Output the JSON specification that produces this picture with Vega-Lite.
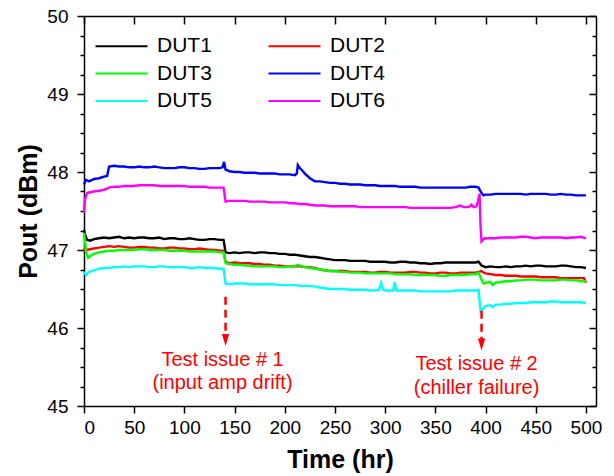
{
"$schema": "https://vega.github.io/schema/vega-lite/v6.json",
"width": 512, "height": 390,
"autosize": {"type": "none"},
"padding": {"left": 84, "top": 16, "right": 18, "bottom": 70},
"config": {"view": {"stroke": null}, "font": "Liberation Sans",
  "axis": {"grid": false, "domainColor": "black", "tickColor": "black", "labelColor": "black", "titleColor": "black", "domainWidth": 1.5, "tickWidth": 1.5, "labelFont": "Liberation Sans", "titleFont": "Liberation Sans"}},
"datasets": {
"lines": [
{"s":"DUT1","t":0,"v":47.26},{"s":"DUT1","t":1,"v":47.2},{"s":"DUT1","t":3,"v":47.13},{"s":"DUT1","t":6,"v":47.12},{"s":"DUT1","t":10,"v":47.14},{"s":"DUT1","t":15,"v":47.15},{"s":"DUT1","t":20,"v":47.16},{"s":"DUT1","t":25,"v":47.15},{"s":"DUT1","t":30,"v":47.16},{"s":"DUT1","t":35,"v":47.17},{"s":"DUT1","t":40,"v":47.15},{"s":"DUT1","t":45,"v":47.16},{"s":"DUT1","t":50,"v":47.15},{"s":"DUT1","t":55,"v":47.16},{"s":"DUT1","t":60,"v":47.16},{"s":"DUT1","t":65,"v":47.15},{"s":"DUT1","t":70,"v":47.15},{"s":"DUT1","t":75,"v":47.16},{"s":"DUT1","t":80,"v":47.14},{"s":"DUT1","t":85,"v":47.15},{"s":"DUT1","t":90,"v":47.15},{"s":"DUT1","t":95,"v":47.14},{"s":"DUT1","t":100,"v":47.14},{"s":"DUT1","t":105,"v":47.15},{"s":"DUT1","t":110,"v":47.14},{"s":"DUT1","t":115,"v":47.13},{"s":"DUT1","t":120,"v":47.13},{"s":"DUT1","t":125,"v":47.14},{"s":"DUT1","t":130,"v":47.14},{"s":"DUT1","t":135,"v":47.13},{"s":"DUT1","t":139,"v":47.13},{"s":"DUT1","t":141,"v":46.97},{"s":"DUT1","t":145,"v":46.96},{"s":"DUT1","t":150,"v":46.97},{"s":"DUT1","t":155,"v":46.96},{"s":"DUT1","t":160,"v":46.97},{"s":"DUT1","t":165,"v":46.97},{"s":"DUT1","t":170,"v":46.96},{"s":"DUT1","t":175,"v":46.97},{"s":"DUT1","t":180,"v":46.97},{"s":"DUT1","t":185,"v":46.96},{"s":"DUT1","t":190,"v":46.96},{"s":"DUT1","t":195,"v":46.95},{"s":"DUT1","t":200,"v":46.95},{"s":"DUT1","t":205,"v":46.94},{"s":"DUT1","t":210,"v":46.94},{"s":"DUT1","t":215,"v":46.93},{"s":"DUT1","t":220,"v":46.92},{"s":"DUT1","t":225,"v":46.91},{"s":"DUT1","t":230,"v":46.91},{"s":"DUT1","t":235,"v":46.9},{"s":"DUT1","t":240,"v":46.89},{"s":"DUT1","t":245,"v":46.88},{"s":"DUT1","t":250,"v":46.87},{"s":"DUT1","t":255,"v":46.87},{"s":"DUT1","t":260,"v":46.87},{"s":"DUT1","t":265,"v":46.86},{"s":"DUT1","t":270,"v":46.86},{"s":"DUT1","t":275,"v":46.86},{"s":"DUT1","t":280,"v":46.86},{"s":"DUT1","t":285,"v":46.85},{"s":"DUT1","t":290,"v":46.85},{"s":"DUT1","t":295,"v":46.85},{"s":"DUT1","t":300,"v":46.85},{"s":"DUT1","t":305,"v":46.84},{"s":"DUT1","t":310,"v":46.84},{"s":"DUT1","t":315,"v":46.85},{"s":"DUT1","t":320,"v":46.85},{"s":"DUT1","t":325,"v":46.84},{"s":"DUT1","t":330,"v":46.84},{"s":"DUT1","t":335,"v":46.83},{"s":"DUT1","t":340,"v":46.83},{"s":"DUT1","t":345,"v":46.82},{"s":"DUT1","t":350,"v":46.83},{"s":"DUT1","t":355,"v":46.83},{"s":"DUT1","t":360,"v":46.84},{"s":"DUT1","t":365,"v":46.84},{"s":"DUT1","t":370,"v":46.84},{"s":"DUT1","t":375,"v":46.84},{"s":"DUT1","t":380,"v":46.84},{"s":"DUT1","t":385,"v":46.84},{"s":"DUT1","t":390,"v":46.84},{"s":"DUT1","t":393,"v":46.85},{"s":"DUT1","t":396,"v":46.8},{"s":"DUT1","t":398,"v":46.79},{"s":"DUT1","t":400,"v":46.78},{"s":"DUT1","t":405,"v":46.79},{"s":"DUT1","t":410,"v":46.78},{"s":"DUT1","t":415,"v":46.78},{"s":"DUT1","t":420,"v":46.79},{"s":"DUT1","t":425,"v":46.78},{"s":"DUT1","t":430,"v":46.79},{"s":"DUT1","t":435,"v":46.79},{"s":"DUT1","t":440,"v":46.8},{"s":"DUT1","t":445,"v":46.79},{"s":"DUT1","t":450,"v":46.8},{"s":"DUT1","t":455,"v":46.8},{"s":"DUT1","t":460,"v":46.79},{"s":"DUT1","t":465,"v":46.79},{"s":"DUT1","t":470,"v":46.79},{"s":"DUT1","t":475,"v":46.8},{"s":"DUT1","t":480,"v":46.8},{"s":"DUT1","t":485,"v":46.79},{"s":"DUT1","t":490,"v":46.78},{"s":"DUT1","t":495,"v":46.78},{"s":"DUT1","t":500,"v":46.77},
{"s":"DUT2","t":0,"v":46.98},{"s":"DUT2","t":1,"v":47.03},{"s":"DUT2","t":3,"v":47.0},{"s":"DUT2","t":6,"v":47.01},{"s":"DUT2","t":10,"v":47.02},{"s":"DUT2","t":15,"v":47.03},{"s":"DUT2","t":20,"v":47.04},{"s":"DUT2","t":25,"v":47.05},{"s":"DUT2","t":30,"v":47.04},{"s":"DUT2","t":35,"v":47.05},{"s":"DUT2","t":40,"v":47.04},{"s":"DUT2","t":45,"v":47.03},{"s":"DUT2","t":50,"v":47.03},{"s":"DUT2","t":55,"v":47.04},{"s":"DUT2","t":60,"v":47.04},{"s":"DUT2","t":65,"v":47.03},{"s":"DUT2","t":70,"v":47.03},{"s":"DUT2","t":75,"v":47.02},{"s":"DUT2","t":80,"v":47.02},{"s":"DUT2","t":85,"v":47.03},{"s":"DUT2","t":90,"v":47.03},{"s":"DUT2","t":95,"v":47.02},{"s":"DUT2","t":100,"v":47.02},{"s":"DUT2","t":105,"v":47.01},{"s":"DUT2","t":110,"v":47.01},{"s":"DUT2","t":115,"v":47.02},{"s":"DUT2","t":120,"v":47.01},{"s":"DUT2","t":125,"v":47.0},{"s":"DUT2","t":130,"v":47.0},{"s":"DUT2","t":135,"v":46.99},{"s":"DUT2","t":139,"v":46.99},{"s":"DUT2","t":141,"v":46.85},{"s":"DUT2","t":145,"v":46.83},{"s":"DUT2","t":150,"v":46.84},{"s":"DUT2","t":155,"v":46.83},{"s":"DUT2","t":160,"v":46.83},{"s":"DUT2","t":165,"v":46.83},{"s":"DUT2","t":170,"v":46.82},{"s":"DUT2","t":175,"v":46.82},{"s":"DUT2","t":180,"v":46.81},{"s":"DUT2","t":185,"v":46.81},{"s":"DUT2","t":190,"v":46.8},{"s":"DUT2","t":195,"v":46.8},{"s":"DUT2","t":200,"v":46.79},{"s":"DUT2","t":205,"v":46.79},{"s":"DUT2","t":210,"v":46.79},{"s":"DUT2","t":215,"v":46.79},{"s":"DUT2","t":220,"v":46.78},{"s":"DUT2","t":225,"v":46.78},{"s":"DUT2","t":230,"v":46.77},{"s":"DUT2","t":235,"v":46.75},{"s":"DUT2","t":240,"v":46.74},{"s":"DUT2","t":245,"v":46.73},{"s":"DUT2","t":250,"v":46.73},{"s":"DUT2","t":255,"v":46.73},{"s":"DUT2","t":260,"v":46.73},{"s":"DUT2","t":265,"v":46.72},{"s":"DUT2","t":270,"v":46.72},{"s":"DUT2","t":275,"v":46.72},{"s":"DUT2","t":280,"v":46.72},{"s":"DUT2","t":285,"v":46.71},{"s":"DUT2","t":290,"v":46.71},{"s":"DUT2","t":295,"v":46.72},{"s":"DUT2","t":300,"v":46.72},{"s":"DUT2","t":305,"v":46.71},{"s":"DUT2","t":310,"v":46.71},{"s":"DUT2","t":315,"v":46.71},{"s":"DUT2","t":320,"v":46.71},{"s":"DUT2","t":325,"v":46.72},{"s":"DUT2","t":330,"v":46.72},{"s":"DUT2","t":335,"v":46.71},{"s":"DUT2","t":340,"v":46.71},{"s":"DUT2","t":345,"v":46.7},{"s":"DUT2","t":350,"v":46.7},{"s":"DUT2","t":355,"v":46.71},{"s":"DUT2","t":360,"v":46.71},{"s":"DUT2","t":365,"v":46.7},{"s":"DUT2","t":370,"v":46.7},{"s":"DUT2","t":375,"v":46.71},{"s":"DUT2","t":380,"v":46.71},{"s":"DUT2","t":385,"v":46.71},{"s":"DUT2","t":390,"v":46.71},{"s":"DUT2","t":393,"v":46.72},{"s":"DUT2","t":396,"v":46.73},{"s":"DUT2","t":398,"v":46.71},{"s":"DUT2","t":400,"v":46.7},{"s":"DUT2","t":405,"v":46.69},{"s":"DUT2","t":410,"v":46.68},{"s":"DUT2","t":415,"v":46.68},{"s":"DUT2","t":420,"v":46.67},{"s":"DUT2","t":425,"v":46.67},{"s":"DUT2","t":430,"v":46.67},{"s":"DUT2","t":435,"v":46.66},{"s":"DUT2","t":440,"v":46.66},{"s":"DUT2","t":445,"v":46.66},{"s":"DUT2","t":450,"v":46.66},{"s":"DUT2","t":455,"v":46.65},{"s":"DUT2","t":460,"v":46.65},{"s":"DUT2","t":465,"v":46.65},{"s":"DUT2","t":470,"v":46.65},{"s":"DUT2","t":475,"v":46.64},{"s":"DUT2","t":480,"v":46.64},{"s":"DUT2","t":485,"v":46.64},{"s":"DUT2","t":490,"v":46.64},{"s":"DUT2","t":495,"v":46.64},{"s":"DUT2","t":498,"v":46.64},{"s":"DUT2","t":500,"v":46.58},
{"s":"DUT3","t":0,"v":47.22},{"s":"DUT3","t":1,"v":47.12},{"s":"DUT3","t":2,"v":46.98},{"s":"DUT3","t":4,"v":46.9},{"s":"DUT3","t":7,"v":46.93},{"s":"DUT3","t":10,"v":46.95},{"s":"DUT3","t":15,"v":46.97},{"s":"DUT3","t":20,"v":46.98},{"s":"DUT3","t":25,"v":46.99},{"s":"DUT3","t":30,"v":46.99},{"s":"DUT3","t":35,"v":47.0},{"s":"DUT3","t":40,"v":47.0},{"s":"DUT3","t":45,"v":47.0},{"s":"DUT3","t":50,"v":47.0},{"s":"DUT3","t":55,"v":47.01},{"s":"DUT3","t":60,"v":47.01},{"s":"DUT3","t":65,"v":47.0},{"s":"DUT3","t":70,"v":47.0},{"s":"DUT3","t":75,"v":47.0},{"s":"DUT3","t":80,"v":47.0},{"s":"DUT3","t":85,"v":46.99},{"s":"DUT3","t":90,"v":46.99},{"s":"DUT3","t":95,"v":46.99},{"s":"DUT3","t":100,"v":46.99},{"s":"DUT3","t":105,"v":46.98},{"s":"DUT3","t":110,"v":46.98},{"s":"DUT3","t":115,"v":46.98},{"s":"DUT3","t":120,"v":46.98},{"s":"DUT3","t":125,"v":46.98},{"s":"DUT3","t":130,"v":46.98},{"s":"DUT3","t":135,"v":46.97},{"s":"DUT3","t":139,"v":46.97},{"s":"DUT3","t":141,"v":46.83},{"s":"DUT3","t":145,"v":46.82},{"s":"DUT3","t":150,"v":46.81},{"s":"DUT3","t":155,"v":46.81},{"s":"DUT3","t":160,"v":46.8},{"s":"DUT3","t":165,"v":46.8},{"s":"DUT3","t":170,"v":46.79},{"s":"DUT3","t":175,"v":46.79},{"s":"DUT3","t":180,"v":46.79},{"s":"DUT3","t":185,"v":46.79},{"s":"DUT3","t":190,"v":46.79},{"s":"DUT3","t":195,"v":46.78},{"s":"DUT3","t":200,"v":46.78},{"s":"DUT3","t":205,"v":46.79},{"s":"DUT3","t":210,"v":46.79},{"s":"DUT3","t":213,"v":46.81},{"s":"DUT3","t":215,"v":46.8},{"s":"DUT3","t":220,"v":46.78},{"s":"DUT3","t":225,"v":46.77},{"s":"DUT3","t":230,"v":46.76},{"s":"DUT3","t":235,"v":46.75},{"s":"DUT3","t":240,"v":46.74},{"s":"DUT3","t":245,"v":46.73},{"s":"DUT3","t":250,"v":46.73},{"s":"DUT3","t":255,"v":46.72},{"s":"DUT3","t":260,"v":46.72},{"s":"DUT3","t":265,"v":46.71},{"s":"DUT3","t":270,"v":46.71},{"s":"DUT3","t":275,"v":46.71},{"s":"DUT3","t":280,"v":46.7},{"s":"DUT3","t":285,"v":46.7},{"s":"DUT3","t":290,"v":46.7},{"s":"DUT3","t":295,"v":46.7},{"s":"DUT3","t":300,"v":46.7},{"s":"DUT3","t":305,"v":46.7},{"s":"DUT3","t":310,"v":46.69},{"s":"DUT3","t":315,"v":46.69},{"s":"DUT3","t":320,"v":46.69},{"s":"DUT3","t":325,"v":46.69},{"s":"DUT3","t":330,"v":46.68},{"s":"DUT3","t":335,"v":46.68},{"s":"DUT3","t":340,"v":46.68},{"s":"DUT3","t":345,"v":46.68},{"s":"DUT3","t":350,"v":46.68},{"s":"DUT3","t":355,"v":46.67},{"s":"DUT3","t":360,"v":46.67},{"s":"DUT3","t":365,"v":46.68},{"s":"DUT3","t":370,"v":46.68},{"s":"DUT3","t":375,"v":46.68},{"s":"DUT3","t":380,"v":46.68},{"s":"DUT3","t":385,"v":46.69},{"s":"DUT3","t":390,"v":46.69},{"s":"DUT3","t":393,"v":46.71},{"s":"DUT3","t":396,"v":46.62},{"s":"DUT3","t":398,"v":46.57},{"s":"DUT3","t":400,"v":46.58},{"s":"DUT3","t":405,"v":46.59},{"s":"DUT3","t":407,"v":46.55},{"s":"DUT3","t":410,"v":46.58},{"s":"DUT3","t":415,"v":46.59},{"s":"DUT3","t":420,"v":46.6},{"s":"DUT3","t":425,"v":46.6},{"s":"DUT3","t":430,"v":46.61},{"s":"DUT3","t":435,"v":46.61},{"s":"DUT3","t":440,"v":46.62},{"s":"DUT3","t":445,"v":46.62},{"s":"DUT3","t":450,"v":46.62},{"s":"DUT3","t":455,"v":46.61},{"s":"DUT3","t":460,"v":46.61},{"s":"DUT3","t":465,"v":46.61},{"s":"DUT3","t":470,"v":46.61},{"s":"DUT3","t":475,"v":46.62},{"s":"DUT3","t":480,"v":46.62},{"s":"DUT3","t":485,"v":46.61},{"s":"DUT3","t":490,"v":46.61},{"s":"DUT3","t":495,"v":46.6},{"s":"DUT3","t":500,"v":46.6},
{"s":"DUT4","t":0,"v":47.84},{"s":"DUT4","t":2,"v":47.9},{"s":"DUT4","t":5,"v":47.88},{"s":"DUT4","t":10,"v":47.91},{"s":"DUT4","t":15,"v":47.92},{"s":"DUT4","t":20,"v":47.94},{"s":"DUT4","t":23,"v":47.95},{"s":"DUT4","t":25,"v":48.07},{"s":"DUT4","t":30,"v":48.08},{"s":"DUT4","t":35,"v":48.07},{"s":"DUT4","t":40,"v":48.07},{"s":"DUT4","t":45,"v":48.06},{"s":"DUT4","t":50,"v":48.06},{"s":"DUT4","t":55,"v":48.07},{"s":"DUT4","t":60,"v":48.06},{"s":"DUT4","t":65,"v":48.06},{"s":"DUT4","t":70,"v":48.07},{"s":"DUT4","t":75,"v":48.06},{"s":"DUT4","t":80,"v":48.05},{"s":"DUT4","t":85,"v":48.05},{"s":"DUT4","t":90,"v":48.05},{"s":"DUT4","t":95,"v":48.06},{"s":"DUT4","t":100,"v":48.06},{"s":"DUT4","t":105,"v":48.05},{"s":"DUT4","t":110,"v":48.05},{"s":"DUT4","t":115,"v":48.04},{"s":"DUT4","t":120,"v":48.04},{"s":"DUT4","t":125,"v":48.05},{"s":"DUT4","t":130,"v":48.05},{"s":"DUT4","t":135,"v":48.05},{"s":"DUT4","t":138,"v":48.06},{"s":"DUT4","t":139.5,"v":48.13},{"s":"DUT4","t":141,"v":48.03},{"s":"DUT4","t":145,"v":48.01},{"s":"DUT4","t":150,"v":48.0},{"s":"DUT4","t":155,"v":48.0},{"s":"DUT4","t":160,"v":47.99},{"s":"DUT4","t":165,"v":47.99},{"s":"DUT4","t":170,"v":47.99},{"s":"DUT4","t":175,"v":47.98},{"s":"DUT4","t":180,"v":47.98},{"s":"DUT4","t":185,"v":47.98},{"s":"DUT4","t":190,"v":47.98},{"s":"DUT4","t":195,"v":47.97},{"s":"DUT4","t":200,"v":47.97},{"s":"DUT4","t":205,"v":47.97},{"s":"DUT4","t":210,"v":47.96},{"s":"DUT4","t":212,"v":47.98},{"s":"DUT4","t":213,"v":48.09},{"s":"DUT4","t":215,"v":48.05},{"s":"DUT4","t":218,"v":48.01},{"s":"DUT4","t":220,"v":47.98},{"s":"DUT4","t":225,"v":47.92},{"s":"DUT4","t":230,"v":47.88},{"s":"DUT4","t":235,"v":47.88},{"s":"DUT4","t":240,"v":47.87},{"s":"DUT4","t":245,"v":47.86},{"s":"DUT4","t":250,"v":47.86},{"s":"DUT4","t":255,"v":47.85},{"s":"DUT4","t":260,"v":47.85},{"s":"DUT4","t":265,"v":47.84},{"s":"DUT4","t":270,"v":47.84},{"s":"DUT4","t":275,"v":47.84},{"s":"DUT4","t":280,"v":47.83},{"s":"DUT4","t":285,"v":47.83},{"s":"DUT4","t":290,"v":47.83},{"s":"DUT4","t":295,"v":47.82},{"s":"DUT4","t":300,"v":47.82},{"s":"DUT4","t":305,"v":47.82},{"s":"DUT4","t":310,"v":47.82},{"s":"DUT4","t":315,"v":47.81},{"s":"DUT4","t":320,"v":47.81},{"s":"DUT4","t":325,"v":47.81},{"s":"DUT4","t":330,"v":47.81},{"s":"DUT4","t":335,"v":47.8},{"s":"DUT4","t":340,"v":47.8},{"s":"DUT4","t":345,"v":47.8},{"s":"DUT4","t":350,"v":47.8},{"s":"DUT4","t":355,"v":47.8},{"s":"DUT4","t":360,"v":47.8},{"s":"DUT4","t":365,"v":47.8},{"s":"DUT4","t":370,"v":47.8},{"s":"DUT4","t":375,"v":47.8},{"s":"DUT4","t":380,"v":47.8},{"s":"DUT4","t":385,"v":47.81},{"s":"DUT4","t":390,"v":47.81},{"s":"DUT4","t":393,"v":47.8},{"s":"DUT4","t":396,"v":47.73},{"s":"DUT4","t":398,"v":47.7},{"s":"DUT4","t":400,"v":47.71},{"s":"DUT4","t":405,"v":47.71},{"s":"DUT4","t":410,"v":47.72},{"s":"DUT4","t":415,"v":47.72},{"s":"DUT4","t":420,"v":47.72},{"s":"DUT4","t":425,"v":47.72},{"s":"DUT4","t":430,"v":47.72},{"s":"DUT4","t":435,"v":47.72},{"s":"DUT4","t":440,"v":47.71},{"s":"DUT4","t":445,"v":47.72},{"s":"DUT4","t":450,"v":47.72},{"s":"DUT4","t":455,"v":47.72},{"s":"DUT4","t":460,"v":47.72},{"s":"DUT4","t":465,"v":47.71},{"s":"DUT4","t":470,"v":47.71},{"s":"DUT4","t":475,"v":47.72},{"s":"DUT4","t":480,"v":47.71},{"s":"DUT4","t":485,"v":47.71},{"s":"DUT4","t":490,"v":47.7},{"s":"DUT4","t":495,"v":47.7},{"s":"DUT4","t":500,"v":47.7},
{"s":"DUT5","t":0,"v":46.72},{"s":"DUT5","t":2,"v":46.68},{"s":"DUT5","t":5,"v":46.72},{"s":"DUT5","t":10,"v":46.74},{"s":"DUT5","t":15,"v":46.76},{"s":"DUT5","t":20,"v":46.77},{"s":"DUT5","t":25,"v":46.77},{"s":"DUT5","t":30,"v":46.78},{"s":"DUT5","t":35,"v":46.78},{"s":"DUT5","t":40,"v":46.79},{"s":"DUT5","t":45,"v":46.78},{"s":"DUT5","t":50,"v":46.79},{"s":"DUT5","t":55,"v":46.79},{"s":"DUT5","t":60,"v":46.79},{"s":"DUT5","t":65,"v":46.78},{"s":"DUT5","t":70,"v":46.78},{"s":"DUT5","t":75,"v":46.79},{"s":"DUT5","t":80,"v":46.79},{"s":"DUT5","t":85,"v":46.78},{"s":"DUT5","t":90,"v":46.78},{"s":"DUT5","t":95,"v":46.78},{"s":"DUT5","t":100,"v":46.78},{"s":"DUT5","t":105,"v":46.77},{"s":"DUT5","t":110,"v":46.77},{"s":"DUT5","t":115,"v":46.78},{"s":"DUT5","t":120,"v":46.77},{"s":"DUT5","t":125,"v":46.77},{"s":"DUT5","t":130,"v":46.77},{"s":"DUT5","t":135,"v":46.76},{"s":"DUT5","t":139,"v":46.76},{"s":"DUT5","t":141,"v":46.57},{"s":"DUT5","t":145,"v":46.56},{"s":"DUT5","t":150,"v":46.57},{"s":"DUT5","t":155,"v":46.57},{"s":"DUT5","t":160,"v":46.57},{"s":"DUT5","t":165,"v":46.56},{"s":"DUT5","t":170,"v":46.56},{"s":"DUT5","t":175,"v":46.56},{"s":"DUT5","t":180,"v":46.56},{"s":"DUT5","t":185,"v":46.56},{"s":"DUT5","t":190,"v":46.56},{"s":"DUT5","t":195,"v":46.55},{"s":"DUT5","t":200,"v":46.55},{"s":"DUT5","t":205,"v":46.55},{"s":"DUT5","t":210,"v":46.55},{"s":"DUT5","t":215,"v":46.54},{"s":"DUT5","t":220,"v":46.54},{"s":"DUT5","t":225,"v":46.54},{"s":"DUT5","t":230,"v":46.53},{"s":"DUT5","t":235,"v":46.52},{"s":"DUT5","t":240,"v":46.51},{"s":"DUT5","t":245,"v":46.5},{"s":"DUT5","t":250,"v":46.5},{"s":"DUT5","t":255,"v":46.5},{"s":"DUT5","t":260,"v":46.5},{"s":"DUT5","t":265,"v":46.49},{"s":"DUT5","t":270,"v":46.49},{"s":"DUT5","t":275,"v":46.49},{"s":"DUT5","t":280,"v":46.49},{"s":"DUT5","t":285,"v":46.48},{"s":"DUT5","t":290,"v":46.48},{"s":"DUT5","t":294,"v":46.49},{"s":"DUT5","t":296,"v":46.58},{"s":"DUT5","t":298,"v":46.49},{"s":"DUT5","t":300,"v":46.48},{"s":"DUT5","t":305,"v":46.48},{"s":"DUT5","t":308,"v":46.48},{"s":"DUT5","t":309.5,"v":46.59},{"s":"DUT5","t":311,"v":46.48},{"s":"DUT5","t":315,"v":46.48},{"s":"DUT5","t":320,"v":46.48},{"s":"DUT5","t":325,"v":46.48},{"s":"DUT5","t":330,"v":46.48},{"s":"DUT5","t":335,"v":46.47},{"s":"DUT5","t":340,"v":46.47},{"s":"DUT5","t":345,"v":46.47},{"s":"DUT5","t":350,"v":46.47},{"s":"DUT5","t":355,"v":46.47},{"s":"DUT5","t":360,"v":46.47},{"s":"DUT5","t":365,"v":46.47},{"s":"DUT5","t":370,"v":46.48},{"s":"DUT5","t":375,"v":46.48},{"s":"DUT5","t":380,"v":46.48},{"s":"DUT5","t":385,"v":46.48},{"s":"DUT5","t":390,"v":46.48},{"s":"DUT5","t":393,"v":46.49},{"s":"DUT5","t":395,"v":46.22},{"s":"DUT5","t":397,"v":46.24},{"s":"DUT5","t":400,"v":46.28},{"s":"DUT5","t":405,"v":46.29},{"s":"DUT5","t":407,"v":46.27},{"s":"DUT5","t":410,"v":46.3},{"s":"DUT5","t":415,"v":46.3},{"s":"DUT5","t":420,"v":46.31},{"s":"DUT5","t":425,"v":46.31},{"s":"DUT5","t":430,"v":46.32},{"s":"DUT5","t":435,"v":46.32},{"s":"DUT5","t":440,"v":46.32},{"s":"DUT5","t":445,"v":46.33},{"s":"DUT5","t":450,"v":46.33},{"s":"DUT5","t":455,"v":46.33},{"s":"DUT5","t":460,"v":46.33},{"s":"DUT5","t":465,"v":46.34},{"s":"DUT5","t":470,"v":46.34},{"s":"DUT5","t":475,"v":46.33},{"s":"DUT5","t":480,"v":46.33},{"s":"DUT5","t":485,"v":46.33},{"s":"DUT5","t":490,"v":46.33},{"s":"DUT5","t":495,"v":46.33},{"s":"DUT5","t":500,"v":46.32},
{"s":"DUT6","t":0,"v":47.48},{"s":"DUT6","t":1,"v":47.65},{"s":"DUT6","t":3,"v":47.73},{"s":"DUT6","t":6,"v":47.74},{"s":"DUT6","t":10,"v":47.75},{"s":"DUT6","t":15,"v":47.76},{"s":"DUT6","t":20,"v":47.77},{"s":"DUT6","t":25,"v":47.8},{"s":"DUT6","t":30,"v":47.81},{"s":"DUT6","t":35,"v":47.81},{"s":"DUT6","t":40,"v":47.82},{"s":"DUT6","t":45,"v":47.82},{"s":"DUT6","t":50,"v":47.82},{"s":"DUT6","t":55,"v":47.83},{"s":"DUT6","t":60,"v":47.83},{"s":"DUT6","t":65,"v":47.83},{"s":"DUT6","t":70,"v":47.83},{"s":"DUT6","t":75,"v":47.82},{"s":"DUT6","t":80,"v":47.82},{"s":"DUT6","t":85,"v":47.82},{"s":"DUT6","t":90,"v":47.82},{"s":"DUT6","t":95,"v":47.82},{"s":"DUT6","t":100,"v":47.82},{"s":"DUT6","t":105,"v":47.81},{"s":"DUT6","t":110,"v":47.81},{"s":"DUT6","t":115,"v":47.81},{"s":"DUT6","t":120,"v":47.81},{"s":"DUT6","t":125,"v":47.8},{"s":"DUT6","t":130,"v":47.8},{"s":"DUT6","t":135,"v":47.8},{"s":"DUT6","t":139,"v":47.8},{"s":"DUT6","t":141,"v":47.62},{"s":"DUT6","t":145,"v":47.63},{"s":"DUT6","t":150,"v":47.63},{"s":"DUT6","t":155,"v":47.63},{"s":"DUT6","t":160,"v":47.63},{"s":"DUT6","t":165,"v":47.62},{"s":"DUT6","t":170,"v":47.62},{"s":"DUT6","t":175,"v":47.62},{"s":"DUT6","t":180,"v":47.62},{"s":"DUT6","t":185,"v":47.61},{"s":"DUT6","t":190,"v":47.61},{"s":"DUT6","t":195,"v":47.61},{"s":"DUT6","t":200,"v":47.61},{"s":"DUT6","t":205,"v":47.6},{"s":"DUT6","t":210,"v":47.6},{"s":"DUT6","t":215,"v":47.59},{"s":"DUT6","t":220,"v":47.59},{"s":"DUT6","t":225,"v":47.58},{"s":"DUT6","t":230,"v":47.57},{"s":"DUT6","t":235,"v":47.57},{"s":"DUT6","t":240,"v":47.57},{"s":"DUT6","t":245,"v":47.56},{"s":"DUT6","t":250,"v":47.56},{"s":"DUT6","t":255,"v":47.56},{"s":"DUT6","t":260,"v":47.56},{"s":"DUT6","t":265,"v":47.56},{"s":"DUT6","t":270,"v":47.56},{"s":"DUT6","t":275,"v":47.55},{"s":"DUT6","t":280,"v":47.55},{"s":"DUT6","t":285,"v":47.55},{"s":"DUT6","t":290,"v":47.55},{"s":"DUT6","t":295,"v":47.55},{"s":"DUT6","t":300,"v":47.55},{"s":"DUT6","t":305,"v":47.55},{"s":"DUT6","t":310,"v":47.55},{"s":"DUT6","t":315,"v":47.55},{"s":"DUT6","t":320,"v":47.55},{"s":"DUT6","t":325,"v":47.54},{"s":"DUT6","t":330,"v":47.54},{"s":"DUT6","t":335,"v":47.54},{"s":"DUT6","t":340,"v":47.54},{"s":"DUT6","t":345,"v":47.54},{"s":"DUT6","t":350,"v":47.54},{"s":"DUT6","t":355,"v":47.54},{"s":"DUT6","t":360,"v":47.54},{"s":"DUT6","t":365,"v":47.54},{"s":"DUT6","t":370,"v":47.55},{"s":"DUT6","t":375,"v":47.57},{"s":"DUT6","t":378,"v":47.55},{"s":"DUT6","t":383,"v":47.55},{"s":"DUT6","t":386,"v":47.58},{"s":"DUT6","t":388,"v":47.55},{"s":"DUT6","t":391,"v":47.56},{"s":"DUT6","t":392.5,"v":47.63},{"s":"DUT6","t":394,"v":47.72},{"s":"DUT6","t":395,"v":47.3},{"s":"DUT6","t":396,"v":47.11},{"s":"DUT6","t":398,"v":47.14},{"s":"DUT6","t":400,"v":47.15},{"s":"DUT6","t":405,"v":47.15},{"s":"DUT6","t":410,"v":47.15},{"s":"DUT6","t":415,"v":47.16},{"s":"DUT6","t":420,"v":47.16},{"s":"DUT6","t":425,"v":47.16},{"s":"DUT6","t":430,"v":47.16},{"s":"DUT6","t":435,"v":47.17},{"s":"DUT6","t":440,"v":47.17},{"s":"DUT6","t":445,"v":47.16},{"s":"DUT6","t":450,"v":47.15},{"s":"DUT6","t":455,"v":47.16},{"s":"DUT6","t":460,"v":47.16},{"s":"DUT6","t":465,"v":47.16},{"s":"DUT6","t":470,"v":47.16},{"s":"DUT6","t":475,"v":47.16},{"s":"DUT6","t":480,"v":47.15},{"s":"DUT6","t":485,"v":47.16},{"s":"DUT6","t":490,"v":47.16},{"s":"DUT6","t":495,"v":47.17},{"s":"DUT6","t":500,"v":47.15}
],
"arrows": [{"t":141,"y1":46.40,"y2":45.87,"tip":45.77},{"t":396,"y1":46.22,"y2":45.81,"tip":45.71}],
"notes": [{"t":138,"v":45.51,"label":"Test issue # 1"},{"t":138,"v":45.22,"label":"(input amp drift)"},{"t":391,"v":45.46,"label":"Test issue # 2"},{"t":391,"v":45.16,"label":"(chiller failure)"}]
},
"resolve": {"axis": {"x": "independent", "y": "independent"}},
"layer": [
{"data": {"name": "lines"},
 "mark": {"type": "line", "strokeWidth": 2.4, "interpolate": "linear"},
 "encoding": {
  "x": {"field": "t", "type": "quantitative", "scale": {"domain": [0, 510], "nice": false, "zero": false},
        "axis": {"orient": "bottom", "values": [0,50,100,150,200,250,300,350,400,450,500], "tickSize": 7, "labelFontSize": 19, "labelPadding": 5, "title": "Time (hr)", "titleFontSize": 25, "titleFontWeight": "bold", "titlePadding": 10}},
  "y": {"field": "v", "type": "quantitative", "scale": {"domain": [45, 50], "nice": false, "zero": false},
        "axis": {"orient": "left", "values": [45,46,47,48,49,50], "tickSize": 7, "labelFontSize": 19, "labelPadding": 9, "title": "Pout (dBm)", "titleFontSize": 25, "titleFontWeight": "bold", "titlePadding": 5}},
  "color": {"field": "s", "type": "nominal",
    "scale": {"domain": ["DUT1","DUT2","DUT3","DUT4","DUT5","DUT6"], "range": ["#000000","#ff0000","#00ff00","#0000ff","#00ffff","#ff00ff"]},
    "legend": {"orient": "none", "direction": "horizontal", "legendX": 27, "legendY": 19.5, "columns": 2, "title": null, "symbolType": "M-4,0L4,0", "symbolSize": 169, "symbolStrokeWidth": 2, "labelFontSize": 21, "labelFont": "Liberation Sans", "labelColor": "black", "labelOffset": 25, "columnPadding": 52, "rowPadding": 5.5, "padding": 0, "labelLimit": 200}}
 }},
{"data": {"name": "arrows"},
 "mark": {"type": "rule", "color": "#ff0000", "strokeWidth": 2.5, "strokeDash": [8, 5]},
 "encoding": {
  "x": {"field": "t", "type": "quantitative", "scale": {"domain": [0, 510], "nice": false, "zero": false},
        "axis": {"orient": "top", "values": [0,50,100,150,200,250,300,350,400,450,500], "tickSize": -8, "labels": false, "title": null}},
  "y": {"field": "y1", "type": "quantitative", "scale": {"domain": [45, 50], "nice": false, "zero": false},
        "axis": {"orient": "right", "values": [45,46,47,48,49,50], "tickSize": -7, "labels": false, "title": null}},
  "y2": {"field": "y2"}
 }},
{"data": {"name": "arrows"},
 "mark": {"type": "point", "shape": "M-1.2,-4L1.2,-4L0,0Z", "size": 36, "filled": true, "color": "#ff0000", "opacity": 1},
 "encoding": {
  "x": {"field": "t", "type": "quantitative", "scale": {"domain": [0, 510], "nice": false, "zero": false}, "axis": null},
  "y": {"field": "tip", "type": "quantitative", "scale": {"domain": [45, 50], "nice": false, "zero": false},
        "axis": {"orient": "left", "values": [45.25,45.5,45.75,46.25,46.5,46.75,47.25,47.5,47.75,48.25,48.5,48.75,49.25,49.5,49.75], "tickSize": 4, "labels": false, "domain": false, "title": null}}
 }},
{"data": {"name": "notes"},
 "mark": {"type": "text", "color": "#ff0000", "fontSize": 20, "font": "Liberation Sans", "align": "center", "baseline": "alphabetic"},
 "encoding": {
  "x": {"field": "t", "type": "quantitative", "scale": {"domain": [0, 510], "nice": false, "zero": false}, "axis": null},
  "y": {"field": "v", "type": "quantitative", "scale": {"domain": [45, 50], "nice": false, "zero": false},
        "axis": {"orient": "right", "values": [45.25,45.5,45.75,46.25,46.5,46.75,47.25,47.5,47.75,48.25,48.5,48.75,49.25,49.5,49.75], "tickSize": -4, "labels": false, "domain": false, "title": null}},
  "text": {"field": "label"}
 }}
]
}
